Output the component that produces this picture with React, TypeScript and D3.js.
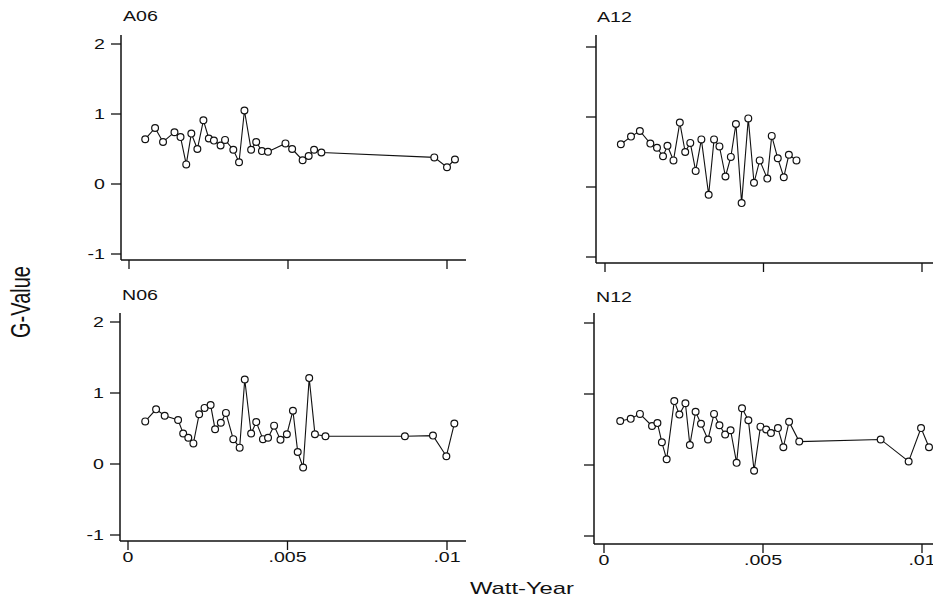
import React from "react";
import * as d3 from "d3";

const panelNames = ["A06", "A12", "N06", "N12"];
const xTickValues = [0, 0.005, 0.01];
const xTickLabels = ["0", ".005", ".01"];
const yTickValues = [-1, 0, 1, 2];
const yTickLabels = ["-1", "0", "1", "2"];

const a06X = [0.00051,0.00082,0.00107,0.00143,0.00162,0.00180,0.00196,0.00215,0.00234,0.00251,0.00267,0.00288,0.00302,0.00328,0.00346,0.00363,0.00384,0.00400,0.00418,0.00437,0.00492,0.00513,0.00546,0.00565,0.00582,0.00605,0.00960,0.01000,0.01025];
const a06Y = [0.64,0.80,0.60,0.74,0.67,0.28,0.72,0.50,0.91,0.65,0.62,0.55,0.63,0.49,0.31,1.05,0.49,0.60,0.47,0.46,0.58,0.50,0.34,0.40,0.49,0.45,0.38,0.24,0.35];

const a12X = [0.00050,0.00082,0.00110,0.00143,0.00164,0.00183,0.00197,0.00216,0.00236,0.00253,0.00269,0.00286,0.00304,0.00327,0.00344,0.00361,0.00380,0.00397,0.00413,0.00431,0.00452,0.00470,0.00488,0.00512,0.00526,0.00545,0.00564,0.00580,0.00604];
const a12Y = [0.61,0.72,0.80,0.62,0.56,0.44,0.59,0.38,0.92,0.50,0.63,0.23,0.68,-0.11,0.68,0.58,0.15,0.43,0.90,-0.23,0.98,0.06,0.38,0.12,0.73,0.41,0.14,0.46,0.38];

const n06X = [0.00054,0.00088,0.00115,0.00157,0.00173,0.00189,0.00205,0.00223,0.00240,0.00259,0.00273,0.00291,0.00307,0.00330,0.00350,0.00366,0.00386,0.00402,0.00423,0.00439,0.00458,0.00478,0.00498,0.00517,0.00532,0.00549,0.00568,0.00586,0.00619,0.00868,0.00956,0.00998,0.01023];
const n06Y = [0.60,0.77,0.68,0.62,0.43,0.37,0.29,0.70,0.79,0.83,0.49,0.58,0.72,0.35,0.23,1.19,0.43,0.59,0.35,0.37,0.54,0.34,0.42,0.75,0.17,-0.05,1.21,0.42,0.39,0.39,0.40,0.11,0.57];

const n12X = [0.00051,0.00084,0.00113,0.00151,0.00168,0.00182,0.00197,0.00221,0.00237,0.00256,0.00270,0.00288,0.00305,0.00327,0.00346,0.00363,0.00381,0.00398,0.00417,0.00434,0.00454,0.00472,0.00492,0.00510,0.00525,0.00547,0.00564,0.00582,0.00614,0.00870,0.00958,0.00997,0.01022];
const n12Y = [0.62,0.65,0.72,0.55,0.59,0.32,0.08,0.90,0.71,0.87,0.28,0.75,0.58,0.36,0.72,0.56,0.43,0.49,0.03,0.80,0.63,-0.08,0.54,0.50,0.45,0.52,0.25,0.61,0.33,0.36,0.05,0.52,0.25];

const seriesX = [a06X, a12X, n06X, n12X];
const seriesY = [a06Y, a12Y, n06Y, n12Y];

// layout per panel (pixel geometry)
const layouts = [
  { axisX: 121, top: 35, xAxisY: 260, y1: 114, y0: 184, x0: 129, x01: 447, right: 466, titleX: 123, titleY: 21, showYLabels: true, showXLabels: false },
  { axisX: 596, top: 35, xAxisY: 263, y1: 117, y0: 187, x0: 605, x01: 922, right: 940, titleX: 597, titleY: 22, showYLabels: false, showXLabels: false },
  { axisX: 120, top: 313, xAxisY: 541, y1: 393, y0: 464, x0: 128, x01: 447, right: 466, titleX: 122, titleY: 300, showYLabels: true, showXLabels: true },
  { axisX: 594, top: 313, xAxisY: 544, y1: 394, y0: 465, x0: 604, x01: 922, right: 940, titleX: 596, titleY: 302, showYLabels: false, showXLabels: true },
];

const FONT = "'Liberation Sans', Arial, Helvetica, sans-serif";
const SX = 1.4;

function SText({ x, y, size, anchor = "start", children, rotate = 0 }: any) {
  return (
    <text
      transform={`translate(${x},${y}) scale(${SX},1)${rotate ? ` rotate(${rotate})` : ""}`}
      fontFamily={FONT}
      fontSize={size}
      textAnchor={anchor}
      fill="#111"
    >
      {children}
    </text>
  );
}

function Panel({ idx }: { idx: number }) {
  const L = layouts[idx];
  const xs = d3.scaleLinear().domain([0, 0.01]).range([L.x0, L.x01]);
  const ys = d3.scaleLinear().domain([0, 1]).range([L.y0, L.y1]);
  const pts = seriesX[idx].map((x, i) => [x, seriesY[idx][i]] as [number, number]);
  const line = d3
    .line<[number, number]>()
    .x((d) => xs(d[0]))
    .y((d) => ys(d[1]));
  return (
    <g>
      <SText x={L.titleX} y={L.titleY} size={14}>
        {panelNames[idx]}
      </SText>
      <line x1={L.axisX} x2={L.axisX} y1={L.top} y2={L.xAxisY} stroke="#111" strokeWidth={1.5} />
      <line x1={L.axisX} x2={L.right} y1={L.xAxisY} y2={L.xAxisY} stroke="#111" strokeWidth={1.5} />
      {yTickValues.map((v, i) => (
        <g key={"y" + i}>
          <line x1={L.axisX - 10} x2={L.axisX} y1={ys(v)} y2={ys(v)} stroke="#111" strokeWidth={1.3} />
          {L.showYLabels && (
            <SText x={L.axisX - 16} y={ys(v) + 5} size={14} anchor="end">
              {yTickLabels[i]}
            </SText>
          )}
        </g>
      ))}
      {xTickValues.map((v, i) => (
        <g key={"x" + i}>
          <line x1={xs(v)} x2={xs(v)} y1={L.xAxisY} y2={L.xAxisY + 9} stroke="#111" strokeWidth={1.3} />
          {L.showXLabels && (
            <SText x={xs(v)} y={L.xAxisY + 21} size={14} anchor="middle">
              {xTickLabels[i]}
            </SText>
          )}
        </g>
      ))}
      <path d={line(pts) || ""} fill="none" stroke="#111" strokeWidth={1.1} />
      {pts.map((p, i) => (
        <circle key={i} cx={xs(p[0])} cy={ys(p[1])} r={3.4} fill="#fff" stroke="#111" strokeWidth={1.2} />
      ))}
    </g>
  );
}

export default function App() {
  return (
    <svg
      width={933}
      height={613}
      style={{ position: "absolute", left: 0, top: 0, background: "#fff", overflow: "hidden" }}
    >
      <rect x={0} y={0} width={933} height={613} fill="#fff" />
      {[0, 1, 2, 3].map((i) => (
        <Panel key={i} idx={i} />
      ))}
      <SText x={30} y={302} size={20} anchor="middle" rotate={-90}>
        G-Value
      </SText>
      <SText x={522} y={594} size={17} anchor="middle">
        Watt-Year
      </SText>
    </svg>
  );
}
